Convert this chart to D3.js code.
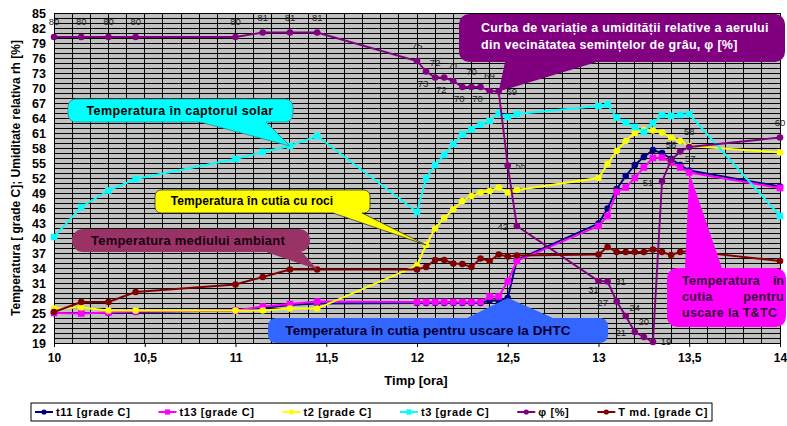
<!DOCTYPE html>
<html><head><meta charset="utf-8">
<script src="https://cdn.jsdelivr.net/npm/d3@7"></script>
<style>body{margin:0;background:#fff}svg{display:block}text{font-family:"Liberation Sans",Arial,sans-serif}</style>
</head><body>
<svg id="c" width="787" height="426"></svg>
<script>
// ---------- data ----------
const times = [10,10.15,10.3,10.45,11,11.15,11.3,11.45,12,12.05,12.1,12.15,12.2,12.25,12.3,12.35,12.4,12.45,12.5,12.55,13,13.05,13.1,13.15,13.2,13.25,13.3,13.35,13.4,13.45,13.5,14];
const t11 = [25,25,25,25.2,25.5,26,26.6,26.9,27,27,27,27,27,27,27,27,27.5,27.5,28,35.6,42.9,45.9,49.8,52.4,54.6,56.2,57.6,57,55.8,54.6,53.5,50.3];
const t13 = [25,24.9,25.1,25.3,25.5,26.3,26.8,27.3,27.2,27.2,27.2,27.2,27.2,27.2,27.2,27.2,28.3,28.3,31.3,35.4,42.4,44.4,49.2,50.1,52,54.1,56,56.1,55.1,54.1,53.1,50];
const t2  = [25.9,26.1,25.5,25.5,25.5,25.5,25.9,25.9,34.5,38.6,41.9,44,45.7,47.4,48.4,49.1,49.4,50.1,49.1,49.6,52,54.8,57.4,59.4,61,61.6,61.5,61.1,60.1,59.4,58.4,57.1];
const t3  = [40.2,46.2,49.5,51.8,55.8,57.2,58.4,60.4,45.2,51.9,54.6,56.6,58.8,60.7,61.7,62.7,63.4,64.9,64.2,64.8,66.4,66.7,64.1,63.1,62.2,61.2,63,64.6,64.4,64.6,64.8,44.4];
const phi = [80.2,80.2,80.2,80.2,80.2,81.1,81.1,81.1,75.4,73.3,72.1,72.1,71.4,70.2,70.2,70.2,69.4,69.3,54.5,42.4,31.4,31.3,27.3,24.4,21.2,20.2,19.2,51.3,55.6,57.3,58.2,60.1];
const tmd = [25.2,27.2,27.2,29.2,30.7,32.2,33.7,33.7,33.7,34.2,35.6,35.6,34.9,34.8,34.2,35.9,35.4,36.7,36.3,36.5,36.7,38.2,37.2,37.2,37.2,37.2,37.7,37.2,36.6,37.2,37.4,35.4];
const yTicks = d3.range(19, 86, 3);
const xTicks = [10,10.5,11,11.5,12,12.5,13,13.5,14];
const seriesNames = ["t11 [grade C]","t13 [grade C]","t2 [grade C]","t3 [grade C]","\u03c6 [%]","T md. [grade C]"];

// ---------- style ----------
const colors = ["#000080","#ff00ff","#ffff00","#00ffff","#800080","#800000"];
const shapes = ["circle","square","circle","square","circle","circle"];
const phiLabelPlace = ["t","t","t","t","t","t","t","t","t","b","t","b","t","b","t","b","t","r","r","l","bl","r","l","tr","l","t","r","l","t","br","t","t"];
const placeOff = {t:[0,-12],b:[-3,15],r:[13,3],l:[-14,4],bl:[-5,12],tr:[9,-5],br:[10,10]};

const svg = d3.select("#c");
const x = d3.scaleLinear().domain([10,14]).range([54,780]);
const y = d3.scaleLinear().domain([19,85]).range([343,13]);

// plot background and grid
svg.append("rect").attr("x",x(10)).attr("y",y(85)).attr("width",x(14)-x(10)).attr("height",y(19)-y(85)).attr("fill","#c0c0c0");
const g = svg.append("g").attr("shape-rendering","crispEdges");
g.selectAll("line.h").data(d3.range(19,86,1)).join("line")
  .attr("x1",x(10)).attr("x2",x(14)).attr("y1",d=>y(d)).attr("y2",d=>y(d)).attr("stroke","#000").attr("stroke-width",1);
g.selectAll("line.v").data(d3.range(0,41).map(i=>10+i*0.1)).join("line")
  .attr("y1",y(19)).attr("y2",y(85)).attr("x1",d=>x(d)).attr("x2",d=>x(d)).attr("stroke","#000").attr("stroke-width",1);

// axes
const ya = svg.append("g").attr("transform",`translate(${x(10)},0)`)
  .call(d3.axisLeft(y).tickValues(yTicks).tickSize(0).tickPadding(8).tickFormat(d3.format("d")));
ya.select(".domain").attr("stroke","#000");
ya.selectAll("text").attr("font-size",12.5).attr("font-weight","bold").attr("fill","#000");
const xa = svg.append("g").attr("transform",`translate(0,${y(19)})`)
  .call(d3.axisBottom(x).tickValues(xTicks).tickSize(4).tickPadding(6).tickFormat(d=>String(d).replace(".",",")));
xa.select(".domain").attr("stroke","#000");
xa.selectAll("text").attr("font-size",12).attr("font-weight","bold").attr("fill","#000");

svg.append("text").attr("x",416).attr("y",385).attr("text-anchor","middle").attr("font-size",13).attr("font-weight","bold").text("Timp [ora]");
svg.append("text").attr("transform","translate(20,178) rotate(-90)").attr("text-anchor","middle").attr("font-size",12).attr("font-weight","bold")
  .text("Temperatura [ grade C]; Umiditate relativa rh [%]");

// series
const allSeries = [t11,t13,t2,t3,phi,tmd];
const line = d3.line().x(d=>x(d[0])).y(d=>y(d[1]));
function marker(sel, shape, color, r){
  if(shape==="square") sel.append("rect").attr("x",-r).attr("y",-r).attr("width",2*r).attr("height",2*r).attr("fill",color);
  else sel.append("circle").attr("r",r).attr("fill",color);
}
allSeries.forEach((s,i)=>{
  const pts = times.map((t,j)=>[t,s[j]]);
  const sg = svg.append("g");
  sg.append("path").attr("d",line(pts)).attr("fill","none").attr("stroke",colors[i]).attr("stroke-width",1.9);
  pts.forEach(p=>{
    const m = sg.append("g").attr("transform",`translate(${x(p[0])},${y(p[1])})`);
    marker(m, shapes[i], colors[i], 3.3);
  });
});
// phi labels
svg.append("g").selectAll("text").data(phi).join("text")
  .attr("x",(d,i)=>x(times[i])+placeOff[phiLabelPlace[i]][0])
  .attr("y",(d,i)=>y(d)+placeOff[phiLabelPlace[i]][1])
  .attr("text-anchor","middle").attr("font-size",9.5).attr("fill","#222")
  .text(d=>Math.round(d));

// callouts
function callout(bx,by,bw,bh,r,edge,b1,b2,tx,ty){
  const p = d3.path();
  p.moveTo(bx+r,by);
  if(edge==="top"){p.lineTo(b1,by);p.lineTo(tx,ty);p.lineTo(b2,by);}
  p.lineTo(bx+bw-r,by); p.arcTo(bx+bw,by,bx+bw,by+r,r);
  p.lineTo(bx+bw,by+bh-r); p.arcTo(bx+bw,by+bh,bx+bw-r,by+bh,r);
  if(edge==="bottom"){p.lineTo(b2,by+bh);p.lineTo(tx,ty);p.lineTo(b1,by+bh);}
  p.lineTo(bx+r,by+bh); p.arcTo(bx,by+bh,bx,by+bh-r,r);
  p.lineTo(bx,by+r); p.arcTo(bx,by,bx+r,by,r);
  p.closePath();
  return p.toString();
}
const cl = svg.append("g");
function addCallout(opts){
  cl.append("path").attr("d",callout(...opts.box,opts.edge,opts.b1,opts.b2,opts.tip[0],opts.tip[1]))
    .attr("fill",opts.fill).attr("stroke",opts.stroke||"none").attr("stroke-width",0.8);
}
addCallout({box:[68,99,225,23,8],edge:"bottom",b1:200,b2:266,tip:[x(times[6]),y(t3[6])],fill:"#00ffff",stroke:"#2a8a8a"});
addCallout({box:[155,190,215,23,6],edge:"bottom",b1:333,b2:362,tip:[x(times[9]),y(t2[9])],fill:"#ffff00",stroke:"#333"});
addCallout({box:[72,229,238,23,11],edge:"bottom",b1:266,b2:302,tip:[x(times[7]),y(tmd[7])],fill:"#993366"});
addCallout({box:[459,14,326,48,10],edge:"bottom",b1:505,b2:597,tip:[x(times[17]),y(phi[17])],fill:"#800080"});
addCallout({box:[268,318,340,25,8],edge:"top",b1:467,b2:553,tip:[x(times[18]),y(t11[18])],fill:"#3366ff"});
addCallout({box:[667,268,119,59,10],edge:"top",b1:685,b2:722,tip:[x(times[30]),y(t13[30])],fill:"#ff00ff"});

function ctext(tx,ty,str,opt){
  return cl.append("text").attr("x",tx).attr("y",ty).attr("font-size",opt.size).attr("font-weight","bold")
   .attr("letter-spacing",opt.ls||0).attr("fill",opt.fill).attr("text-anchor",opt.anchor||"middle").text(str);
}
ctext(180,115,"Temperatura în captorul solar",{size:12.5,ls:0.4,fill:"#000"});
ctext(252,205,"Temperatura în cutia cu roci",{size:12,ls:0.1,fill:"#000"});
ctext(188,245,"Temperatura mediului ambiant",{size:13,ls:0.2,fill:"#1a0010"});
ctext(481,32,"Curba de variație a umidității relative a aerului",{size:12.5,ls:0.3,fill:"#fff",anchor:"start"});
ctext(481,49,"din vecinătatea semințelor de grâu, φ [%]",{size:12.5,ls:0.3,fill:"#fff",anchor:"start"});
ctext(428,335,"Temperatura în cutia pentru uscare la DHTC",{size:13.5,ls:0.1,fill:"#000033"});
ctext(682,285,"Temperatura",{size:12.5,ls:0.3,fill:"#330033",anchor:"start"});
ctext(784,285,"în",{size:12.5,fill:"#330033",anchor:"end"});
ctext(682,301,"cutia",{size:12.5,ls:0.3,fill:"#330033",anchor:"start"});
ctext(784,301,"pentru",{size:12.5,ls:0.3,fill:"#330033",anchor:"end"});
ctext(682,317,"uscare la T&TC",{size:12.5,ls:0.3,fill:"#330033",anchor:"start"});

// legend
const lg = svg.append("g");
const LX0 = 31, LX1 = 712;
const lbox = lg.append("rect").attr("x",LX0).attr("y",403).attr("width",LX1-LX0).attr("height",18).attr("fill","#fff").attr("stroke","#000").attr("stroke-width",1);
const items = seriesNames.map((nm,i)=>{
  const gi = lg.append("g");
  gi.append("line").attr("x1",0).attr("x2",18).attr("y1",412).attr("y2",412).attr("stroke",colors[i]).attr("stroke-width",2);
  const m = gi.append("g").attr("transform",`translate(9,412)`);
  marker(m, shapes[i], colors[i], 2.6);
  const t = gi.append("text").attr("x",21).attr("y",416).attr("font-size",11).attr("font-weight","bold").attr("letter-spacing",0.6).text(nm);
  return {gi, w: 21 + t.node().getComputedTextLength()};
});
const totalW = d3.sum(items,d=>d.w);
const gap = (LX1-LX0-8 - totalW)/(items.length-1);
let lx = LX0+4;
items.forEach(it=>{ it.gi.attr("transform",`translate(${lx},0)`); lx += it.w + gap; });
</script>
</body></html>
